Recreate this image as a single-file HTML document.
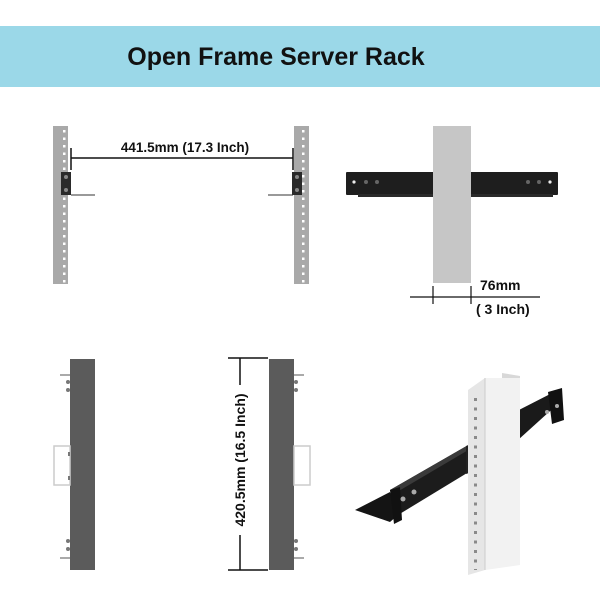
<!DOCTYPE html>
<html><head><meta charset="utf-8"><style>
html,body{margin:0;padding:0;background:#fff;}
svg{display:block;}
text{font-family:"Liberation Sans",sans-serif;font-weight:bold;fill:#111;}
</style></head><body>
<svg width="600" height="600" viewBox="0 0 600 600" xmlns="http://www.w3.org/2000/svg">
<defs>
<pattern id="holesL" x="53" y="128" width="15" height="7.5" patternUnits="userSpaceOnUse">
<rect x="10" y="2" width="2.5" height="2.5" fill="#fff"/>
</pattern>
<pattern id="holesR" x="294" y="128" width="15" height="7.5" patternUnits="userSpaceOnUse">
<rect x="8" y="2" width="2.5" height="2.5" fill="#fff"/>
</pattern>
<pattern id="holes2" x="0" y="395" width="6" height="9.5" patternUnits="userSpaceOnUse">
<rect x="0" y="3" width="3" height="3" fill="#8a8a8a"/>
</pattern>
</defs>
<rect x="0" y="26" width="600" height="61" fill="#9bd8e8"/>
<text x="276" y="65" font-size="25" text-anchor="middle">Open Frame Server Rack</text>

<!-- top-left -->
<rect x="53" y="126" width="15" height="158" fill="#a9a9a9"/>
<rect x="53" y="126" width="15" height="158" fill="url(#holesL)"/>
<rect x="294" y="126" width="15" height="158" fill="#a9a9a9"/>
<rect x="294" y="126" width="15" height="158" fill="url(#holesR)"/>
<rect x="61" y="172" width="10" height="23" fill="#2a2a2a"/>
<circle cx="66" cy="177" r="2" fill="#888"/><circle cx="66" cy="190" r="2" fill="#888"/>
<rect x="292" y="172" width="10" height="23" fill="#2a2a2a"/>
<circle cx="297" cy="177" r="2" fill="#888"/><circle cx="297" cy="190" r="2" fill="#888"/>
<line x1="71" y1="158" x2="293" y2="158" stroke="#111" stroke-width="1.5"/>
<line x1="71" y1="148" x2="71" y2="170" stroke="#111" stroke-width="1.5"/>
<line x1="293" y1="148" x2="293" y2="170" stroke="#111" stroke-width="1.5"/>
<line x1="71" y1="195" x2="95" y2="195" stroke="#333" stroke-width="1"/>
<line x1="268" y1="195" x2="293" y2="195" stroke="#333" stroke-width="1"/>
<text x="185" y="152" font-size="13.5" text-anchor="middle">441.5mm (17.3 Inch)</text>

<!-- top-right -->
<rect x="346" y="172" width="212" height="23" rx="1" fill="#1e1e1e"/>
<rect x="358" y="194" width="195" height="3" fill="#2a2a2a"/>
<rect x="433" y="126" width="38" height="157" fill="#c6c6c6"/>
<circle cx="354" cy="182" r="1.6" fill="#eee"/><circle cx="366" cy="182" r="2" fill="#666"/><circle cx="377" cy="182" r="2" fill="#666"/>
<circle cx="550" cy="182" r="1.6" fill="#eee"/><circle cx="539" cy="182" r="2" fill="#666"/><circle cx="528" cy="182" r="2" fill="#666"/>
<line x1="410" y1="297" x2="540" y2="297" stroke="#111" stroke-width="1.2"/>
<line x1="433" y1="286" x2="433" y2="304" stroke="#111" stroke-width="1.2"/>
<line x1="471" y1="286" x2="471" y2="304" stroke="#111" stroke-width="1.2"/>
<text x="480" y="290" font-size="14">76mm</text>
<text x="476" y="314" font-size="14">( 3 Inch)</text>

<!-- bottom-left -->
<rect x="70" y="359" width="25" height="211" fill="#5b5b5b"/>
<rect x="54" y="446" width="16" height="39" fill="none" stroke="#ccc" stroke-width="1.5"/>
<line x1="60" y1="375" x2="70" y2="375" stroke="#555"/>
<line x1="60" y1="558" x2="70" y2="558" stroke="#555"/>
<circle cx="68" cy="382" r="2" fill="#777"/><circle cx="68" cy="390" r="2" fill="#777"/>
<circle cx="68" cy="541" r="2" fill="#777"/><circle cx="68" cy="549" r="2" fill="#777"/>
<rect x="68" y="452" width="2" height="4" fill="#777"/><rect x="68" y="476" width="2" height="4" fill="#777"/>

<!-- bottom-right -->
<rect x="269" y="359" width="25" height="211" fill="#5b5b5b"/>
<rect x="294" y="446" width="16" height="39" fill="none" stroke="#ccc" stroke-width="1.5"/>
<line x1="294" y1="375" x2="304" y2="375" stroke="#555"/>
<line x1="294" y1="558" x2="304" y2="558" stroke="#555"/>
<circle cx="296" cy="382" r="2" fill="#777"/><circle cx="296" cy="390" r="2" fill="#777"/>
<circle cx="296" cy="541" r="2" fill="#777"/><circle cx="296" cy="549" r="2" fill="#777"/>
<line x1="240" y1="358" x2="240" y2="570" stroke="#111" stroke-width="1.5"/>
<line x1="228" y1="358" x2="268" y2="358" stroke="#111" stroke-width="1.5"/>
<line x1="228" y1="570" x2="268" y2="570" stroke="#111" stroke-width="1.5"/>
<rect x="232" y="385" width="16" height="150" fill="#fff"/>
<text x="0" y="0" font-size="14" text-anchor="middle" transform="translate(245 460) rotate(-90)">420.5mm (16.5 Inch)</text>

<!-- 3D view -->
<!-- right rail segment behind post -->
<polygon points="515,412 558,390 560,402 518,440" fill="#1a1a1a"/>
<polygon points="548,392 562,388 564,420 552,424" fill="#111"/>
<circle cx="547" cy="412" r="2" fill="#aaa"/><circle cx="557" cy="406" r="2" fill="#aaa"/>
<!-- left rail -->
<polygon points="390,490 470,444 472,470 398,515" fill="#1c1c1c"/>
<polygon points="355,510 390,492 398,515 390,522" fill="#141414"/>
<polygon points="390,490 470,444 470,449 392,495" fill="#3a3a3a"/>
<polygon points="390,490 400,487 402,520 394,524" fill="#111"/>
<polygon points="466,446 478,442 478,470 466,474" fill="#222"/>
<circle cx="472" cy="450" r="3.2" fill="#ccc"/><circle cx="472" cy="467" r="3.2" fill="#ccc"/>
<circle cx="403" cy="499" r="2.5" fill="#aaa"/><circle cx="414" cy="492" r="2.5" fill="#aaa"/>
<!-- post -->
<polygon points="502,373 520,376 520,384 502,381" fill="#d8d8d8"/>
<polygon points="468,390 485,378 485,570 468,575" fill="#e6e6e6"/>
<polygon points="485,378 520,378 520,565 485,570" fill="#f2f2f2"/>
<line x1="485" y1="378" x2="485" y2="570" stroke="#ccc"/>
<rect x="472" y="395" width="6" height="175" fill="url(#holes2)"/>
</svg>
</body></html>
